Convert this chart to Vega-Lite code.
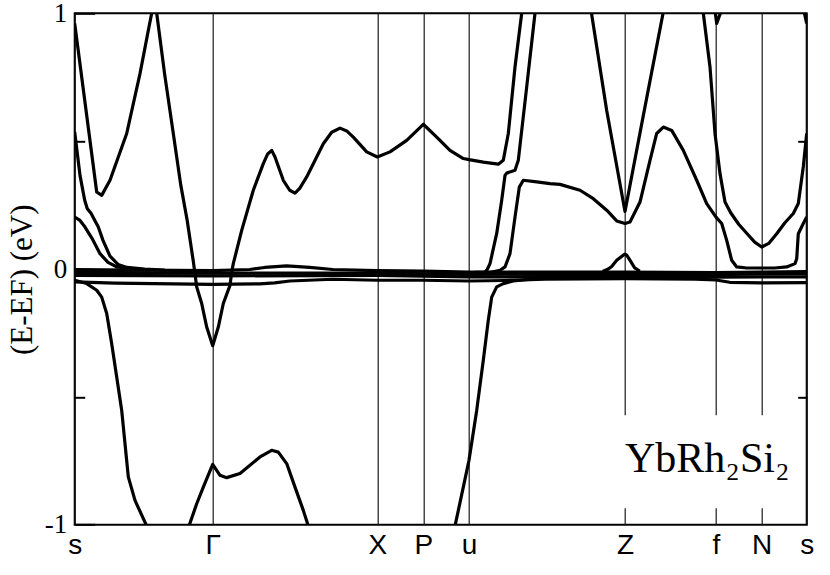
{
"$schema": "https://vega.github.io/schema/vega-lite/v6.json",
"width": 732, "height": 511.4,
"autosize": {"type": "none"},
"padding": {"left": 74.7, "top": 13.3, "right": 23.3, "bottom": 50.3},
"background": "white",
"config": {"view": {"stroke": "black", "strokeWidth": 2}},
"datasets": {"bands": [
{"b":"b1","k":0,"e":0.96},{"b":"b1","k":22,"e":0.301},{"b":"b1","k":27,"e":0.288},{"b":"b1","k":35.3,"e":0.347},{"b":"b1","k":52,"e":0.53},{"b":"b1","k":65.3,"e":0.764},{"b":"b1","k":73.6,"e":0.933},{"b":"b1","k":77,"e":1.0},{"b":"b1","k":79.5,"e":1.03},{"b":"b1","k":82,"e":1.0},{"b":"b1","k":90,"e":0.76},{"b":"b1","k":98.6,"e":0.53},{"b":"b1","k":106,"e":0.33},{"b":"b1","k":112.5,"e":0.19},{"b":"b1","k":118.6,"e":0.03},{"b":"b1","k":122,"e":-0.07},{"b":"b1","k":127,"e":-0.135},{"b":"b1","k":132,"e":-0.227},{"b":"b1","k":138,"e":-0.3},{"b":"b1","k":143.6,"e":-0.227},{"b":"b1","k":148.6,"e":-0.135},{"b":"b1","k":155.3,"e":-0.064},{"b":"b1","k":157,"e":-0.012},{"b":"b1","k":158.6,"e":0.021},{"b":"b1","k":167,"e":0.151},{"b":"b1","k":178.6,"e":0.308},{"b":"b1","k":188.6,"e":0.412},{"b":"b1","k":193,"e":0.45},{"b":"b1","k":197,"e":0.464},{"b":"b1","k":200.3,"e":0.438},{"b":"b1","k":208.6,"e":0.347},{"b":"b1","k":215,"e":0.308},{"b":"b1","k":220.3,"e":0.297},{"b":"b1","k":225,"e":0.315},{"b":"b1","k":232,"e":0.36},{"b":"b1","k":248.6,"e":0.49},{"b":"b1","k":257,"e":0.535},{"b":"b1","k":265.3,"e":0.551},{"b":"b1","k":272,"e":0.54},{"b":"b1","k":278.6,"e":0.516},{"b":"b1","k":292,"e":0.458},{"b":"b1","k":302.6,"e":0.438},{"b":"b1","k":315.3,"e":0.458},{"b":"b1","k":332,"e":0.503},{"b":"b1","k":348.6,"e":0.566},{"b":"b1","k":362,"e":0.516},{"b":"b1","k":375.3,"e":0.464},{"b":"b1","k":388.6,"e":0.432},{"b":"b1","k":394.3,"e":0.428},{"b":"b1","k":408.6,"e":0.418},{"b":"b1","k":423.6,"e":0.41},{"b":"b1","k":428.6,"e":0.425},{"b":"b1","k":433.6,"e":0.53},{"b":"b1","k":440.3,"e":0.79},{"b":"b1","k":447,"e":1.0},{"b":"b1","k":448.8,"e":1.07},
{"b":"b2","k":0,"e":0.536},{"b":"b2","k":5.3,"e":0.366},{"b":"b2","k":10,"e":0.269},{"b":"b2","k":12.6,"e":0.236},{"b":"b2","k":16.3,"e":0.218},{"b":"b2","k":23.6,"e":0.164},{"b":"b2","k":28.3,"e":0.112},{"b":"b2","k":35.3,"e":0.05},{"b":"b2","k":43.3,"e":0.018},{"b":"b2","k":52.3,"e":0.006},{"b":"b2","k":70,"e":0.0},{"b":"b2","k":90,"e":-0.004},
{"b":"b3","k":0,"e":0.203},{"b":"b3","k":5.3,"e":0.19},{"b":"b3","k":10.3,"e":0.164},{"b":"b3","k":17.3,"e":0.12},{"b":"b3","k":25.3,"e":0.06},{"b":"b3","k":33.3,"e":0.026},{"b":"b3","k":42.3,"e":0.008},{"b":"b3","k":60,"e":-0.002},{"b":"b3","k":75,"e":-0.004},
{"b":"bD","k":0,"e":-0.044},{"b":"bD","k":12,"e":-0.057},{"b":"bD","k":22,"e":-0.083},{"b":"bD","k":27,"e":-0.11},{"b":"bD","k":32,"e":-0.174},{"b":"bD","k":37,"e":-0.292},{"b":"bD","k":42,"e":-0.422},{"b":"bD","k":47,"e":-0.553},{"b":"bD","k":53.6,"e":-0.813},{"b":"bD","k":60.3,"e":-0.905},{"b":"bD","k":72,"e":-1.005},{"b":"bD","k":75,"e":-1.03},
{"b":"bE","k":113,"e":-1.04},{"b":"bE","k":114.3,"e":-1.005},{"b":"bE","k":122,"e":-0.918},{"b":"bE","k":128.6,"e":-0.853},{"b":"bE","k":138,"e":-0.764},{"b":"bE","k":145.3,"e":-0.807},{"b":"bE","k":152,"e":-0.816},{"b":"bE","k":165.3,"e":-0.8},{"b":"bE","k":185.3,"e":-0.735},{"b":"bE","k":197,"e":-0.709},{"b":"bE","k":203.6,"e":-0.716},{"b":"bE","k":212,"e":-0.761},{"b":"bE","k":220.3,"e":-0.853},{"b":"bE","k":228.6,"e":-0.944},{"b":"bE","k":233.6,"e":-1.005},{"b":"bE","k":235,"e":-1.03},
{"b":"bF","k":378.3,"e":-1.04},{"b":"bF","k":380.3,"e":-1.005},{"b":"bF","k":388.6,"e":-0.853},{"b":"bF","k":394.3,"e":-0.748},{"b":"bF","k":402,"e":-0.553},{"b":"bF","k":408.6,"e":-0.357},{"b":"bF","k":413.6,"e":-0.2},{"b":"bF","k":417,"e":-0.11},{"b":"bF","k":422,"e":-0.07},{"b":"bF","k":428.6,"e":-0.057},{"b":"bF","k":438.6,"e":-0.047},{"b":"bF","k":455.3,"e":-0.04},{"b":"bF","k":465,"e":-0.038},
{"b":"bB","k":400,"e":-0.013},{"b":"bB","k":410.3,"e":-0.012},{"b":"bB","k":412.5,"e":-0.002},{"b":"bB","k":415.3,"e":0.021},{"b":"bB","k":422,"e":0.139},{"b":"bB","k":427,"e":0.269},{"b":"bB","k":430.3,"e":0.366},{"b":"bB","k":432,"e":0.375},{"b":"bB","k":440.3,"e":0.386},{"b":"bB","k":443.6,"e":0.425},{"b":"bB","k":452,"e":0.712},{"b":"bB","k":460.3,"e":1.0},{"b":"bB","k":462,"e":1.06},
{"b":"bG","k":415,"e":-0.014},{"b":"bG","k":425.3,"e":-0.005},{"b":"bG","k":430.3,"e":0.008},{"b":"bG","k":435.3,"e":0.06},{"b":"bG","k":440.3,"e":0.203},{"b":"bG","k":444.6,"e":0.32},{"b":"bG","k":448.6,"e":0.347},{"b":"bG","k":462,"e":0.341},{"b":"bG","k":475.3,"e":0.334},{"b":"bG","k":485.3,"e":0.331},{"b":"bG","k":505.3,"e":0.308},{"b":"bG","k":518.6,"e":0.275},{"b":"bG","k":532,"e":0.23},{"b":"bG","k":542,"e":0.188},{"b":"bG","k":550.3,"e":0.178},{"b":"bG","k":555.3,"e":0.184},{"b":"bG","k":565.3,"e":0.262},{"b":"bG","k":575.3,"e":0.425},{"b":"bG","k":582,"e":0.53},{"b":"bG","k":588.6,"e":0.555},{"b":"bG","k":597,"e":0.542},{"b":"bG","k":608.6,"e":0.464},{"b":"bG","k":622,"e":0.347},{"b":"bG","k":632,"e":0.256},{"b":"bG","k":641.3,"e":0.203},{"b":"bG","k":647,"e":0.178},{"b":"bG","k":652,"e":0.112},{"b":"bG","k":657,"e":0.034},{"b":"bG","k":662,"e":0.008},{"b":"bG","k":672,"e":0.004},{"b":"bG","k":700,"e":0.004},{"b":"bG","k":712,"e":0.008},{"b":"bG","k":720.3,"e":0.021},{"b":"bG","k":722,"e":0.04},{"b":"bG","k":723.6,"e":0.138},{"b":"bG","k":728.6,"e":0.178},{"b":"bG","k":732,"e":0.203},
{"b":"bV","k":514.8,"e":1.05},{"b":"bV","k":532,"e":0.62},{"b":"bV","k":550.3,"e":0.225},{"b":"bV","k":568.6,"e":0.6},{"b":"bV","k":590.8,"e":1.05},
{"b":"bU","k":626.3,"e":1.05},{"b":"bU","k":628.6,"e":1.0},{"b":"bU","k":635.3,"e":0.79},{"b":"bU","k":640.3,"e":0.53},{"b":"bU","k":645.3,"e":0.373},{"b":"bU","k":650.3,"e":0.262},{"b":"bU","k":656,"e":0.22},{"b":"bU","k":664,"e":0.175},{"b":"bU","k":672,"e":0.14},{"b":"bU","k":680,"e":0.105},{"b":"bU","k":687,"e":0.086},{"b":"bU","k":694,"e":0.1},{"b":"bU","k":702,"e":0.138},{"b":"bU","k":710,"e":0.18},{"b":"bU","k":718.6,"e":0.217},{"b":"bU","k":723.6,"e":0.256},{"b":"bU","k":728.6,"e":0.4},{"b":"bU","k":732,"e":0.53},
{"b":"bf","k":639.6,"e":1.03},{"b":"bf","k":642,"e":0.96},{"b":"bf","k":648.3,"e":1.03},
{"b":"bs","k":727,"e":1.05},{"b":"bs","k":732,"e":0.96},
{"b":"bz","k":528,"e":-0.01},{"b":"bz","k":533.6,"e":0.0},{"b":"bz","k":537,"e":0.01},{"b":"bz","k":542,"e":0.034},{"b":"bz","k":548.6,"e":0.054},{"b":"bz","k":550.3,"e":0.058},{"b":"bz","k":552,"e":0.054},{"b":"bz","k":556,"e":0.03},{"b":"bz","k":560,"e":0.004},{"b":"bz","k":565,"e":-0.008},
{"b":"F1","k":0,"e":-0.002},{"b":"F1","k":60,"e":-0.004},{"b":"F1","k":100,"e":-0.005},{"b":"F1","k":138,"e":-0.006},{"b":"F1","k":175,"e":-0.002},{"b":"F1","k":190,"e":0.006},{"b":"F1","k":212,"e":0.012},{"b":"F1","k":235,"e":0.006},{"b":"F1","k":258,"e":-0.002},{"b":"F1","k":302.6,"e":-0.006},{"b":"F1","k":348.6,"e":-0.008},{"b":"F1","k":394.3,"e":-0.012},{"b":"F1","k":470,"e":-0.012},{"b":"F1","k":550.3,"e":-0.012},{"b":"F1","k":641.3,"e":-0.014},{"b":"F1","k":687,"e":-0.012},{"b":"F1","k":732,"e":-0.01},
{"b":"F2","k":0,"e":-0.013},{"b":"F2","k":138,"e":-0.016},{"b":"F2","k":302.6,"e":-0.016},{"b":"F2","k":394.3,"e":-0.021},{"b":"F2","k":470,"e":-0.02},{"b":"F2","k":550.3,"e":-0.021},{"b":"F2","k":641.3,"e":-0.022},{"b":"F2","k":687,"e":-0.019},{"b":"F2","k":732,"e":-0.018},
{"b":"F3","k":0,"e":-0.025},{"b":"F3","k":138,"e":-0.027},{"b":"F3","k":302.6,"e":-0.025},{"b":"F3","k":394.3,"e":-0.031},{"b":"F3","k":470,"e":-0.03},{"b":"F3","k":550.3,"e":-0.03},{"b":"F3","k":620,"e":-0.034},{"b":"F3","k":641.3,"e":-0.032},{"b":"F3","k":687,"e":-0.031},{"b":"F3","k":732,"e":-0.031},
{"b":"F4","k":0,"e":-0.05},{"b":"F4","k":40,"e":-0.055},{"b":"F4","k":138,"e":-0.06},{"b":"F4","k":185,"e":-0.058},{"b":"F4","k":200,"e":-0.054},{"b":"F4","k":215,"e":-0.047},{"b":"F4","k":258,"e":-0.04},{"b":"F4","k":302.6,"e":-0.044},{"b":"F4","k":348.6,"e":-0.044},{"b":"F4","k":394.3,"e":-0.047},{"b":"F4","k":430,"e":-0.045},{"b":"F4","k":470,"e":-0.04},{"b":"F4","k":550.3,"e":-0.038},{"b":"F4","k":620,"e":-0.04},{"b":"F4","k":641.3,"e":-0.043},{"b":"F4","k":655,"e":-0.052},{"b":"F4","k":687,"e":-0.054},{"b":"F4","k":732,"e":-0.053}
]},
"resolve": {"axis": {"y": "independent"}},
"layer": [
{"data": {"values": [{}]},
 "mark": {"type": "rect", "color": "white"},
 "encoding": {
  "x": {"datum": 535, "type": "quantitative", "title": null},
  "x2": {"datum": 726},
  "y": {"datum": -0.572, "type": "quantitative", "title": null,
   "axis": {"orient": "right", "title": null, "labels": false, "domain": false, "grid": false, "ticks": true, "tickSize": -9, "tickWidth": 2, "tickColor": "black", "values": [-0.5, 0.5]}},
  "y2": {"datum": -0.936}
 }},
{"data": {"name": "bands"},
 "mark": {"type": "line", "color": "black", "strokeWidth": 3.2, "clip": true, "strokeJoin": "round", "strokeCap": "butt"},
 "encoding": {
  "x": {"field": "k", "type": "quantitative", "scale": {"domain": [0, 732], "nice": false, "zero": false},
   "axis": {"title": null, "values": [0, 138, 302.6, 348.6, 394.3, 550.3, 641.3, 687, 732], "grid": true, "gridColor": "#1a1a1a", "gridWidth": 1.2, "ticks": false, "domain": false,
    "labelExpr": "datum.value < 1 ? 's' : datum.value < 140 ? 'Γ' : datum.value < 310 ? 'X' : datum.value < 360 ? 'P' : datum.value < 400 ? 'u' : datum.value < 560 ? 'Z' : datum.value < 650 ? 'f' : datum.value < 700 ? 'N' : 's'",
    "labelFont": "Liberation Sans", "labelFontSize": 28, "labelColor": "black", "labelPadding": 7, "labelFlush": false, "labelOverlap": false, "labelAngle": 0}},
  "y": {"field": "e", "type": "quantitative", "scale": {"domain": [-1, 1], "nice": false, "zero": false},
   "axis": {"orient": "left", "values": [-1, -0.5, 0, 0.5, 1], "domain": false, "grid": false, "tickColor": "black", "tickWidth": 2,
    "tickSize": {"condition": {"test": "datum.value % 1 === 0", "value": -20}, "value": -10},
    "labelExpr": "datum.value === 1 ? '1' : datum.value === 0 ? '0' : datum.value === -1 ? '-1' : ''",
    "labelFont": "Liberation Serif", "labelFontSize": 27, "labelColor": "black", "labelPadding": 28, "labelOverlap": false,
    "title": "(E-EF) (eV)", "titleFont": "Liberation Serif", "titleFontSize": 31, "titleFontWeight": "normal", "titleColor": "black",
    "titleX": -51.7, "titleY": 266, "titleAngle": -90, "titleAlign": "center", "titleBaseline": "middle"}},
  "detail": {"field": "b"}
 }},
{"data": {"values": [{}]},
 "mark": {"type": "text", "text": "YbRh₂Si₂", "align": "left", "baseline": "alphabetic", "font": "Liberation Serif", "fontSize": 42, "color": "black"},
 "encoding": {
  "x": {"datum": 550.3, "type": "quantitative", "title": null},
  "y": {"datum": -0.794, "type": "quantitative", "axis": null}
 }}
]
}
